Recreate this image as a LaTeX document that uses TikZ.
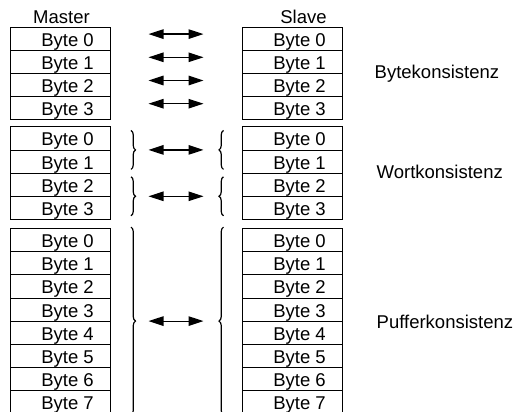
\documentclass[tikz,border=0pt]{standalone}
\usepackage{fontspec}
\setmainfont{Liberation Sans}
\usetikzlibrary{arrows.meta, positioning, calc, decorations.pathreplacing}

\begin{document}
\begin{tikzpicture}[x=1pt, y=-1pt, font=\fontsize{18.5}{22}\selectfont,
  bytebox/.style={draw, line width=0.8pt, minimum width=100, minimum height=23.2,
    inner sep=0pt, outer sep=0pt, text height=19.2pt, text depth=4pt,
    execute at begin node=\hspace*{14pt}},
  dirarrow/.style={{Triangle[length=15pt,width=9.5pt]}-{Triangle[length=15pt,width=9.5pt]},
    line width=1.2pt, shorten <=38pt, shorten >=39pt},
  curly/.style={decorate, decoration={brace, amplitude=4.5pt}, line width=1.2pt},
  title/.style={anchor=base, inner sep=0pt}]
  \useasboundingbox (0,0) rectangle (514,412);
  \foreach \g/\n/\y in {1/3/38.6, 2/3/138.3, 3/7/239.9} {
    \node[bytebox] (m\g-0) at (60.5,\y) {Byte 0};
    \node[bytebox] (s\g-0) at (292.5,\y) {Byte 0};
    \foreach \i in {1,...,\n} {
      \pgfmathtruncatemacro\p{\i-1}
      \node[bytebox, below=0pt of m\g-\p] (m\g-\i) {Byte \i};
      \node[bytebox, below=0pt of s\g-\p] (s\g-\i) {Byte \i};
    }
  }
  \node[title] (master) at ([xshift=1,yshift=3.5]m1-0.north) {Master};
  \node[title] (slave) at ([xshift=11,yshift=3.5]s1-0.north) {Slave};
  \foreach \i in {0,...,3}
    \draw[dirarrow] ([yshift=4.5]m1-\i.east) -- ([yshift=4.5]s1-\i.west);
  \foreach \i in {0,2} {
    \draw[dirarrow] (m2-\i.south east) -- (s2-\i.south west);
    \draw[curly] ($(m2-\i.south east)+(20.5,-19.5)$) -- ($(m2-\i.south east)+(20.5,19.5)$);
    \draw[curly] ($(s2-\i.south west)+(-19,19.5)$) -- ($(s2-\i.south west)+(-19,-19.5)$);
  }
  \draw[dirarrow] (m3-3.south east) -- (s3-3.south west);
  \draw[curly] ($(m3-3.south east)+(20.5,-94)$) -- ($(m3-3.south east)+(20.5,94)$);
  \draw[curly] ($(s3-3.south west)+(-19,94)$) -- ($(s3-3.south west)+(-19,-94)$);
  \node[anchor=base west, inner sep=0pt] (bytek) at ([xshift=32,yshift=-5.5]s1-1.south east) {Bytekonsistenz};
  \node[anchor=base west, inner sep=0pt] (wortk) at ([xshift=34,yshift=-5]s2-1.south east) {Wortkonsistenz};
  \node[anchor=base west, inner sep=0pt] (pufferk) at ([xshift=34,yshift=-7]s3-3.south east) {Pufferkonsistenz};
\end{tikzpicture}
\end{document}
